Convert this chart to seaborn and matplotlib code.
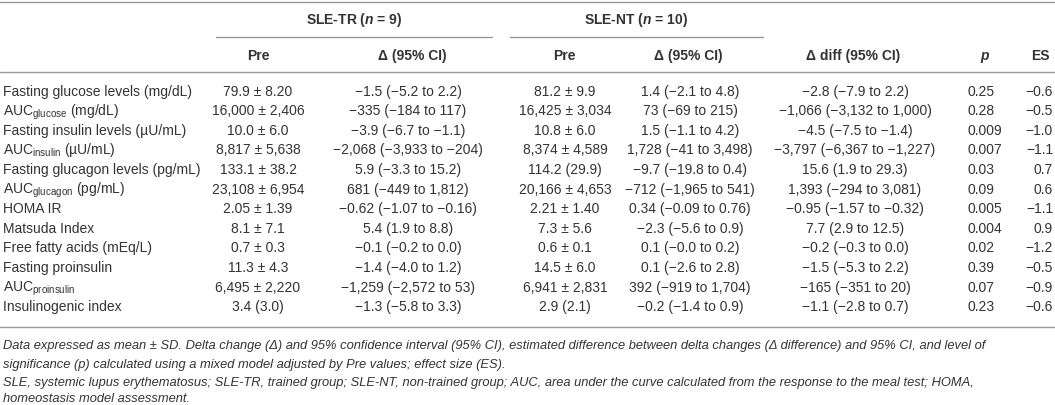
import matplotlib
matplotlib.use("Agg")
import matplotlib.pyplot as plt
import seaborn as sns

sns.set_theme(style="white")
plt.rcParams["font.family"] = ["Liberation Sans", "DejaVu Sans"]
plt.rcParams["mathtext.fontset"] = "custom"
plt.rcParams["mathtext.rm"] = "Liberation Sans"
plt.rcParams["mathtext.it"] = "Liberation Sans:italic:bold"
plt.rcParams["mathtext.bf"] = "Liberation Sans:bold"

# table content
groups = ["SLE-TR ($\\mathit{n}$ = 9)", "SLE-NT ($\\mathit{n}$ = 10)"]
headers = ["Pre", "Δ (95% CI)", "Pre", "Δ (95% CI)", "Δ diff (95% CI)", "$\\mathit{p}$", "ES"]

variables = [
    "Fasting glucose levels (mg/dL)",
    "AUC$_{\\mathrm{glucose}}$ (mg/dL)",
    "Fasting insulin levels (µU/mL)",
    "AUC$_{\\mathrm{insulin}}$ (µU/mL)",
    "Fasting glucagon levels (pg/mL)",
    "AUC$_{\\mathrm{glucagon}}$ (pg/mL)",
    "HOMA IR",
    "Matsuda Index",
    "Free fatty acids (mEq/L)",
    "Fasting proinsulin",
    "AUC$_{\\mathrm{proinsulin}}$",
    "Insulinogenic index",
]
tr_pre = ["79.9 ± 8.20", "16,000 ± 2,406", "10.0 ± 6.0", "8,817 ± 5,638", "133.1 ± 38.2",
          "23,108 ± 6,954", "2.05 ± 1.39", "8.1 ± 7.1", "0.7 ± 0.3", "11.3 ± 4.3",
          "6,495 ± 2,220", "3.4 (3.0)"]
tr_delta = ["−1.5 (−5.2 to 2.2)", "−335 (−184 to 117)", "−3.9 (−6.7 to −1.1)",
            "−2,068 (−3,933 to −204)", "5.9 (−3.3 to 15.2)", "681 (−449 to 1,812)",
            "−0.62 (−1.07 to −0.16)", "5.4 (1.9 to 8.8)", "−0.1 (−0.2 to 0.0)",
            "−1.4 (−4.0 to 1.2)", "−1,259 (−2,572 to 53)", "−1.3 (−5.8 to 3.3)"]
nt_pre = ["81.2 ± 9.9", "16,425 ± 3,034", "10.8 ± 6.0", "8,374 ± 4,589", "114.2 (29.9)",
          "20,166 ± 4,653", "2.21 ± 1.40", "7.3 ± 5.6", "0.6 ± 0.1", "14.5 ± 6.0",
          "6,941 ± 2,831", "2.9 (2.1)"]
nt_delta = ["1.4 (−2.1 to 4.8)", "73 (−69 to 215)", "1.5 (−1.1 to 4.2)",
            "1,728 (−41 to 3,498)", "−9.7 (−19.8 to 0.4)", "−712 (−1,965 to 541)",
            "0.34 (−0.09 to 0.76)", "−2.3 (−5.6 to 0.9)", "0.1 (−0.0 to 0.2)",
            "0.1 (−2.6 to 2.8)", "392 (−919 to 1,704)", "−0.2 (−1.4 to 0.9)"]
delta_diff = ["−2.8 (−7.9 to 2.2)", "−1,066 (−3,132 to 1,000)", "−4.5 (−7.5 to −1.4)",
              "−3,797 (−6,367 to −1,227)", "15.6 (1.9 to 29.3)", "1,393 (−294 to 3,081)",
              "−0.95 (−1.57 to −0.32)", "7.7 (2.9 to 12.5)", "−0.2 (−0.3 to 0.0)",
              "−1.5 (−5.3 to 2.2)", "−165 (−351 to 20)", "−1.1 (−2.8 to 0.7)"]
p_values = ["0.25", "0.28", "0.009", "0.007", "0.03", "0.09", "0.005", "0.004", "0.02",
            "0.39", "0.07", "0.23"]
es_values = ["−0.6", "−0.5", "−1.0", "−1.1", "0.7", "0.6", "−1.1", "0.9", "−1.2",
             "−0.5", "−0.9", "−0.6"]

footnotes = [
    "Data expressed as mean ± SD. Delta change (Δ) and 95% confidence interval (95% CI), "
    "estimated difference between delta changes (Δ difference) and 95% CI, and level of",
    "significance (p) calculated using a mixed model adjusted by Pre values; effect size (ES).",
    "SLE, systemic lupus erythematosus; SLE-TR, trained group; SLE-NT, non-trained group; "
    "AUC, area under the curve calculated from the response to the meal test; HOMA,",
    "homeostasis model assessment.",
]

# layout (pixel coordinates, y downwards)
txt = "#333333"
rule = "#9a9a9a"
fs = 10
col_x = [258, 408, 565, 690, 855, 968, 1053]
col_ha = ["center", "center", "center", "center", "center", "left", "right"]
head_x = [258, 412, 564, 688, 853, 985, 1040]
row_y0, row_dy = 92, 19.6
base = 3.6  # shift from row centre to text baseline

fig = plt.figure(figsize=(10.55, 4.06), dpi=100)
ax = fig.add_axes([0, 0, 1, 1])
ax.set_xlim(0, 1055)
ax.set_ylim(406, 0)
ax.axis("off")

# rules
ax.plot([0, 1055], [3, 3], color=rule, lw=1)
ax.plot([216, 492], [38, 38], color=rule, lw=1)
ax.plot([510, 763], [38, 38], color=rule, lw=1)
ax.plot([0, 1055], [73, 73], color=rule, lw=1)
ax.plot([0, 1055], [328, 328], color=rule, lw=1)

# header
for g, gx in zip(groups, [354, 636]):
    ax.text(gx, 20 + base, g, ha="center", va="baseline", fontsize=fs,
            fontweight="bold", color=txt)
for h, hx in zip(headers, head_x):
    ax.text(hx, 56 + base, h, ha="center", va="baseline", fontsize=fs,
            fontweight="bold", color=txt)

# body
columns = [tr_pre, tr_delta, nt_pre, nt_delta, delta_diff, p_values, es_values]
for i, var in enumerate(variables):
    y = row_y0 + i * row_dy + base
    ax.text(3, y, var, ha="left", va="baseline", fontsize=fs, color=txt)
    for col, cx, ha in zip(columns, col_x, col_ha):
        ax.text(cx, y, col[i], ha=ha, va="baseline", fontsize=fs, color=txt)

# footnotes
for line, fy in zip(footnotes, [346, 365, 383, 399]):
    ax.text(3, fy + 3.3, line, ha="left", va="baseline", fontsize=9.3,
            style="italic", color=txt)

fig.savefig("out.png", dpi=100)
